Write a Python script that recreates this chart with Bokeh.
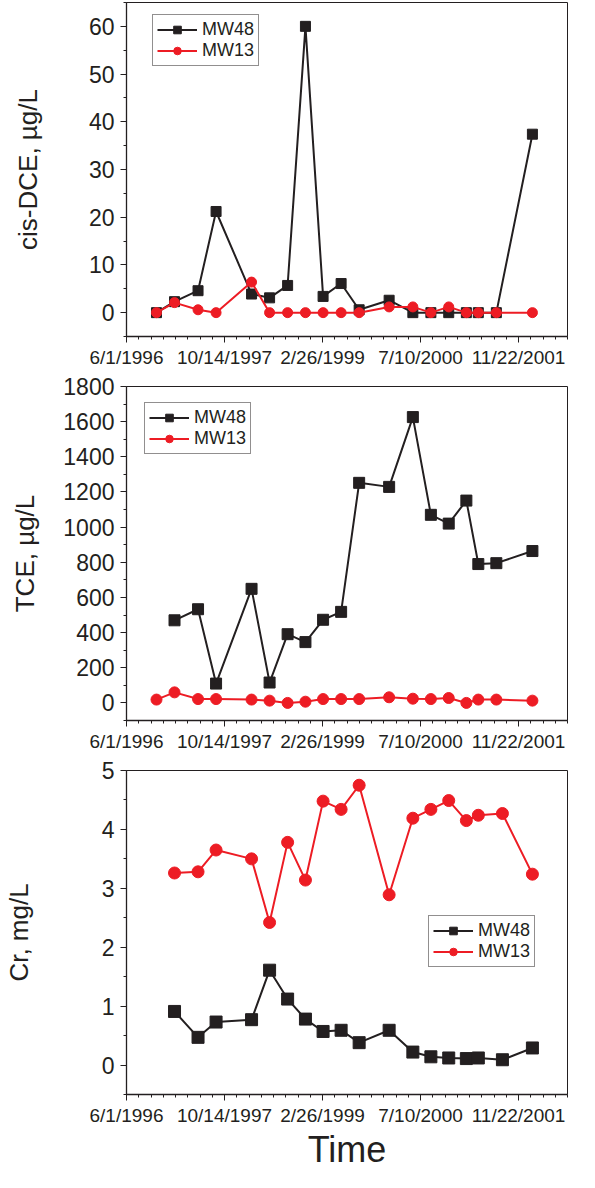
import pandas as pd
from bokeh.plotting import figure
from bokeh.models import Range1d, FixedTicker, LinearAxis, Legend, LegendItem
from bokeh.layouts import column
from bokeh.embed import file_html
from bokeh.resources import INLINE

# ---------------- data ----------------
x_tick_labels = ["6/1/1996", "10/14/1997", "2/26/1999", "7/10/2000", "11/22/2001"]

dates = ["1996-11-01", "1997-02-01", "1997-06-01", "1997-09-01", "1998-03-01",
         "1998-06-01", "1998-09-01", "1998-12-01", "1999-03-01", "1999-06-01",
         "1999-09-01", "2000-02-01", "2000-06-01", "2000-09-01", "2000-12-01",
         "2001-03-01", "2001-05-01", "2001-08-01", "2002-02-01"]

cr_dates = ["1997-02-01", "1997-06-01", "1997-09-01", "1998-03-01", "1998-06-01",
            "1998-09-01", "1998-12-01", "1999-03-01", "1999-06-01", "1999-09-01",
            "2000-02-01", "2000-06-01", "2000-09-01", "2000-12-01", "2001-03-01",
            "2001-05-01", "2001-09-01", "2002-02-01"]

dce_mw48 = [0, 2.3, 4.6, 21.2, 3.9, 3.1, 5.7, 60, 3.4, 6.1, 0.6, 2.6, 0, 0, 0, 0, 0, 0, 37.4]
dce_mw13 = [0, 2.1, 0.6, 0, 6.4, 0, 0, 0, 0, 0, 0, 1.2, 1.2, 0, 1.2, 0, 0, 0, 0]

tce_mw48_dates = dates[1:]
tce_mw48 = [470, 533, 110, 649, 116, 391, 346, 473, 518, 1252, 1229, 1626, 1070,
            1020, 1151, 790, 795, 864]
tce_mw13 = [19, 60, 22, 22, 19, 13, 0, 7, 22, 22, 22, 32, 24, 22, 28, 0, 19, 19, 13]

cr_mw48 = [0.91, 0.47, 0.73, 0.77, 1.61, 1.12, 0.78, 0.57, 0.59, 0.38, 0.59, 0.22,
           0.14, 0.12, 0.11, 0.12, 0.09, 0.29]
cr_mw13 = [3.26, 3.28, 3.65, 3.50, 2.42, 3.78, 3.14, 4.48, 4.34, 4.75, 2.89, 4.19,
           4.34, 4.49, 4.15, 4.24, 4.27, 3.24]

# ---------------- style ----------------
BLACK = "#231f20"
RED = "#ed1c24"
FONT = "Liberation Sans"
DAY = 86400000


def ms(s):
    return int(pd.Timestamp(s).value // 10**6)


major_x = [ms(pd.to_datetime(l, format="%m/%d/%Y")) for l in x_tick_labels]
x_start = major_x[0]
x_end = x_start + 2250 * DAY
minor_x = []
k = 0
while x_start + k * 62.5 * DAY <= x_end:
    minor_x.append(int(x_start + k * 62.5 * DAY))
    k += 1
x_overrides = {m: l for m, l in zip(major_x, x_tick_labels)}


def make_panel(height, bl, br, bt, bb, yr, ymaj, ymin, ylabel, lab_standoff,
               sx48, y48, sx13, y13, msize, leg_loc, xlabel=None):
    p = figure(width=579, height=height, output_backend="svg", toolbar_location=None,
               x_range=Range1d(x_start, x_end), y_range=Range1d(*yr),
               x_axis_type=None, y_axis_type=None,
               min_border_left=bl, min_border_right=br,
               min_border_top=bt, min_border_bottom=bb)
    p.outline_line_color = BLACK
    p.outline_line_width = 1
    p.background_fill_color = "white"
    p.border_fill_color = "white"

    xa = LinearAxis(ticker=FixedTicker(ticks=major_x, minor_ticks=minor_x),
                    major_label_overrides=x_overrides)
    xa.axis_line_color = BLACK
    xa.axis_line_width = 1.3
    xa.major_tick_line_color = BLACK
    xa.minor_tick_line_color = BLACK
    xa.major_tick_out = 6
    xa.major_tick_in = 0
    xa.minor_tick_out = 3
    xa.minor_tick_in = 0
    xa.major_label_standoff = 4
    xa.major_label_text_font = FONT
    xa.major_label_text_font_size = "19px"
    xa.major_label_text_color = BLACK
    if xlabel:
        xa.axis_label = xlabel
        xa.axis_label_text_font = FONT
        xa.axis_label_text_font_size = "36px"
        xa.axis_label_text_font_style = "normal"
        xa.axis_label_text_color = BLACK
        xa.axis_label_standoff = 0
    p.add_layout(xa, "below")

    ya = LinearAxis(ticker=FixedTicker(ticks=ymaj, minor_ticks=ymin), axis_label=ylabel)
    ya.axis_line_color = BLACK
    ya.axis_line_width = 1.3
    ya.major_tick_line_color = BLACK
    ya.minor_tick_line_color = BLACK
    ya.major_tick_out = 6
    ya.major_tick_in = 0
    ya.minor_tick_out = 3
    ya.minor_tick_in = 0
    ya.major_label_standoff = 6
    ya.major_label_text_font = FONT
    ya.major_label_text_font_size = "23px"
    ya.major_label_text_color = BLACK
    ya.axis_label_text_font = FONT
    ya.axis_label_text_font_size = "26px"
    ya.axis_label_text_font_style = "normal"
    ya.axis_label_text_color = BLACK
    ya.axis_label_standoff = lab_standoff
    p.add_layout(ya, "left")

    x48 = [ms(d) for d in sx48]
    x13 = [ms(d) for d in sx13]
    l48 = p.line(x48, y48, line_color=BLACK, line_width=2)
    s48 = p.scatter(x48, y48, marker="square", size=msize, fill_color=BLACK, line_color=BLACK)
    l13 = p.line(x13, y13, line_color=RED, line_width=2)
    s13 = p.scatter(x13, y13, marker="circle", size=msize, fill_color=RED, line_color=RED)

    leg = Legend(items=[LegendItem(label="MW48", renderers=[l48, s48]),
                        LegendItem(label="MW13", renderers=[l13, s13])],
                 location=leg_loc)
    leg.border_line_color = BLACK
    leg.border_line_width = 1.5
    leg.background_fill_color = "white"
    leg.background_fill_alpha = 1
    leg.padding = 4
    leg.spacing = 0
    leg.margin = 0
    leg.label_text_font = FONT
    leg.label_text_font_size = "18px"
    leg.label_text_color = BLACK
    leg.label_height = 19
    leg.glyph_height = 19
    leg.glyph_width = 40
    leg.label_standoff = 5
    p.add_layout(leg)
    return p


p1 = make_panel(370, 115, 12, 2, 32, (-5, 65),
                [0, 10, 20, 30, 40, 50, 60], [-5, 5, 15, 25, 35, 45, 55, 65],
                "cis-DCE, \u00b5g/L", 43,
                dates, dce_mw48, dates, dce_mw13, 10, (26, 270))

p2 = make_panel(384, 118, 9, 16, 32, (-100, 1800),
                list(range(0, 1801, 200)), list(range(-100, 1800, 100)),
                "TCE, \u00b5g/L", 20,
                tce_mw48_dates, tce_mw48, dates, tce_mw13, 11, (18, 266))

p3 = make_panel(418, 124, 4, 16, 72, (-0.5, 5),
                [0, 1, 2, 3, 4, 5], [-0.5, 0.5, 1.5, 2.5, 3.5, 4.5],
                "Cr, mg/L", 65,
                cr_dates, cr_mw48, cr_dates, cr_mw13, 12, (302, 127), xlabel="Time")

layout = column(p1, p2, p3)
open("out.html", "w").write(file_html(layout, INLINE))
